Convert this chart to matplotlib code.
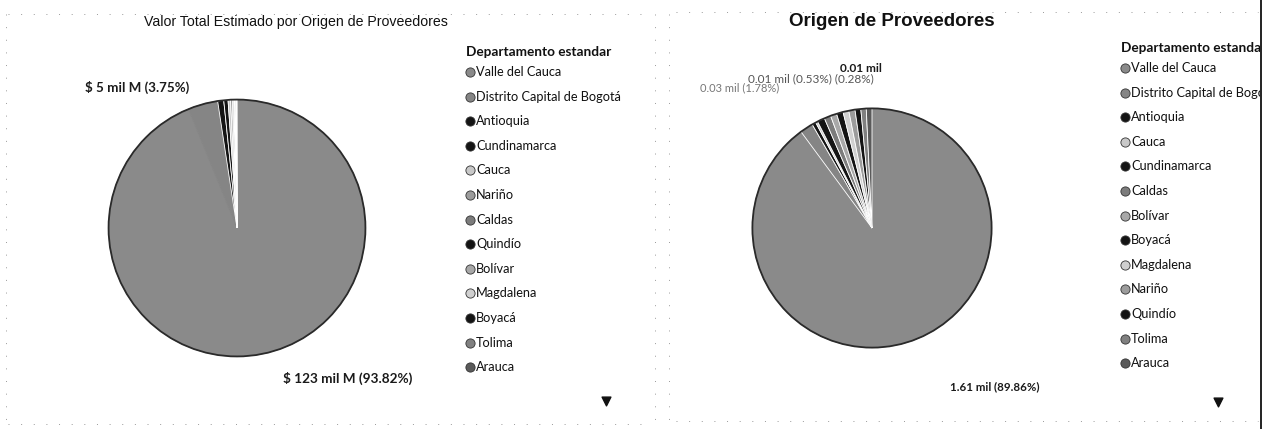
import matplotlib.pyplot as plt
from matplotlib.patches import Circle, Rectangle

# dos tortas de Power BI escaneadas (tonos de gris)
W, H = 1273, 429

# colores por departamento (mismo color en ambas tortas)
dept_colors = {
    "Valle del Cauca": "#8a8a8a",
    "Distrito Capital de Bogotá": "#858585",
    "Antioquia": "#141414",
    "Cundinamarca": "#141414",
    "Cauca": "#c8c8c8",
    "Nariño": "#9c9c9c",
    "Caldas": "#7c7c7c",
    "Quindío": "#141414",
    "Bolívar": "#a8a8a8",
    "Magdalena": "#d0d0d0",
    "Boyacá": "#141414",
    "Tolima": "#808080",
    "Arauca": "#5a5a5a",
}

# torta izquierda: valor total estimado (miles de millones)
left_depts = ["Valle del Cauca", "Distrito Capital de Bogotá", "Antioquia", "Cundinamarca",
              "Cauca", "Nariño", "Caldas", "Quindío", "Bolívar", "Magdalena", "Boyacá",
              "Tolima", "Arauca"]
left_values = [123.0, 4.92, 1.0, 0.7, 0.4, 0.3, 0.2, 0.15, 0.12, 0.1, 0.08, 0.06, 0.05]
left_labels = ["$ 123 mil M (93.82%)", "$ 5 mil M (3.75%)"]

# torta derecha: cantidad de proveedores (mil)
right_depts = ["Valle del Cauca", "Distrito Capital de Bogotá", "Antioquia", "Cauca",
               "Cundinamarca", "Caldas", "Bolívar", "Boyacá", "Magdalena", "Nariño",
               "Quindío", "Tolima", "Arauca"]
right_values = [1.61, 0.032, 0.0095, 0.005, 0.018, 0.016, 0.015, 0.016, 0.014, 0.015,
                0.014, 0.013, 0.0137]
right_labels = ["1.61 mil (89.86%)", "0.03 mil (1.78%)", "0.01 mil (0.53%) (0.28%)", "0.01 mil"]

legend_title = "Departamento estandar"

fig = plt.figure(figsize=(W / 100, H / 100), dpi=100)
fig.patch.set_facecolor("white")

# capa en pixeles para textos, leyendas y bordes
ov = fig.add_axes([0, 0, 1, 1])
ov.set_xlim(0, W)
ov.set_ylim(H, 0)
ov.axis("off")


def pie_axes(cx, cy, r):
    ax = fig.add_axes([(cx - r) / W, 1 - (cy + r) / H, 2 * r / W, 2 * r / H])
    return ax


def draw_pie(ax, depts, values, n_plain):
    wedges, _ = ax.pie(values, colors=[dept_colors[d] for d in depts], startangle=90,
                       counterclock=False, wedgeprops=dict(edgecolor="white", linewidth=0.6))
    # las porciones grandes no muestran separador blanco
    for w in wedges[:n_plain]:
        w.set_edgecolor(w.get_facecolor())
    ax.add_patch(Circle((0, 0), 1.0, fill=False, edgecolor="#2a2a2a", linewidth=1.3))
    ax.set_xlim(-1.02, 1.02)
    ax.set_ylim(-1.02, 1.02)
    ax.set_aspect("auto")
    ax.axis("off")


ax1 = pie_axes(237, 228, 131)
draw_pie(ax1, left_depts, left_values, 2)
ax2 = pie_axes(872, 228, 122)
draw_pie(ax2, right_depts, right_values, 1)

# titulos
ov.text(296, 22, "Valor Total Estimado por Origen de Proveedores", ha="center", va="center",
        fontsize=10.2, family="Liberation Sans", color="#111111")
ov.text(892, 22, "Origen de Proveedores", ha="center", va="center",
        fontsize=13.5, family="Liberation Sans", fontweight="bold", color="#111111")

# etiquetas de datos
lab = dict(family="Lato", color="#1a1a1a", va="center", fontweight="bold")
ov.text(283, 378, left_labels[0], fontsize=9.8, **lab)
ov.text(85, 87, left_labels[1], fontsize=9.6, **lab)
ov.text(950, 387, right_labels[0], fontsize=8.3, **lab)
ov.text(700, 88, right_labels[1], fontsize=8, family="Lato", color="#777777", va="center")
ov.text(748, 79, right_labels[2], fontsize=8.5, family="Lato", color="#555555", va="center")
ov.text(840, 69, right_labels[3], fontsize=8.5, **lab)


def draw_legend(x, y0, depts, step):
    ov.text(x - 4, y0 - 20, legend_title, fontsize=9.8, family="Lato", fontweight="bold",
            color="#111111", va="center")
    for i, d in enumerate(depts):
        y = y0 + i * step
        ov.scatter([x], [y], s=44, color=dept_colors[d], edgecolor="#333333", linewidth=0.6,
                   zorder=3)
        ov.text(x + 6, y, d, fontsize=9.2, family="Lato", color="#111111", va="center")


draw_legend(470, 72, left_depts, 24.6)
draw_legend(1125, 68, right_depts, 24.6)

# flechas de desplazamiento de la leyenda
ov.scatter([606, 1218], [401, 402], marker="v", s=40, color="#111111", zorder=3)

# recorte del panel derecho y su borde
ov.add_patch(Rectangle((1260, 0), 13, H, facecolor="white", edgecolor="none", zorder=5))
ov.plot([1261, 1261], [0, 429], color="#111111", linewidth=1.3, zorder=6)

# bordes punteados del escaneo
dots = dict(color="#9a9a9a", linewidth=0.7, linestyle=(0, (1, 12)))
ov.plot([8, 648], [14, 14], **dots)
ov.plot([6, 6], [14, 424], **dots)
ov.plot([8, 648], [424, 424], **dots)
ov.plot([655, 655], [14, 424], **dots)
ov.plot([669, 669], [14, 424], **dots)
ov.plot([676, 1258], [12, 12], **dots)
ov.plot([676, 1258], [421, 421], **dots)

fig.savefig("out.png", dpi=100, facecolor="white")
